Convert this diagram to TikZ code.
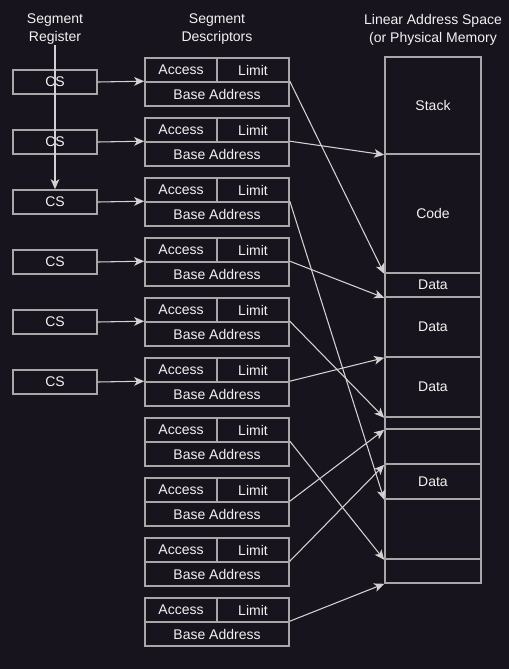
\documentclass[tikz,border=0pt]{standalone}
\usepackage{fontspec}
\setmainfont{Liberation Sans}
\usetikzlibrary{positioning, arrows.meta}

\definecolor{bgcol}{HTML}{18141D}
\definecolor{boxcol}{HTML}{A8A8A8}
\definecolor{wirecol}{HTML}{D2D2D2}
\definecolor{txtcol}{HTML}{F2F2F2}

\tikzset{
  lbl/.style={text=txtcol, inner sep=0pt, font=\fontsize{10.5}{13.5}\selectfont},
  cell/.style={lbl, draw=boxcol, line width=1.2pt},
  regbox/.style={cell, minimum width=63pt, minimum height=18pt},
  halfbox/.style={cell, minimum width=54pt, minimum height=18pt},
  basebox/.style={cell, minimum width=108pt, minimum height=18pt},
  memcell/.style={cell, minimum width=72pt},
  wire/.style={draw=wirecol, line width=0.8pt, -{Stealth[length=7.5pt, width=6.5pt, inset=2pt]}}
}

\begin{document}
\begin{tikzpicture}[x=0.75pt, y=-0.75pt]
\fill[bgcol] (0,0) rectangle (509,669);
\useasboundingbox (0,0) rectangle (509,669);

% column headers
\node[lbl, align=center] (hreg) at (55,29.5) {Segment\\Register};
\node[lbl, align=center] (hdesc) at (217,29.5) {Segment\\Descriptors};
\node[lbl, align=center] (hmem) at (433,29.5) {Linear Address Space\\(or Physical Memory};

% linear address space
\foreach \nm/\t/\b/\txt in {stack/57/154/Stack, code/154/273/Code, d1/273/297/Data,
    d2/297/357/Data, d3/357/417/Data, e1/417/429/{}, e2/429/464/{},
    d4/464/499/Data, e3/499/559/{}, e4/559/583/{}}
  \node[memcell, minimum height={(\b-\t)*0.75pt}] (\nm) at (433,{(\t+\b)/2}) {\txt};

% descriptors
\foreach \i in {1,...,10} {
  \pgfmathsetmacro\yy{58+60*(\i-1)}
  \node[halfbox] (acc\i) at (181,\yy+12) {Access};
  \node[halfbox] (lim\i) at (253,\yy+12) {Limit};
  \node[basebox] (base\i) at (217,\yy+36) {Base Address};
}

% segment registers
\foreach \i in {1,...,6} {
  \node[regbox] (cs\i) at (55,{82+60*(\i-1)}) {CS};
  \draw[wire] (cs\i.east) -- (base\i.north west);
}

\draw[wire] (hreg.south) -- (cs3.north);

% base address -> memory
\foreach \i/\dst in {1/code, 2/stack, 3/d4, 4/d1, 5/d3, 6/d2, 7/e3, 8/e1, 9/e2, 10/e4}
  \draw[wire] (base\i.north east) -- (\dst.south west);
\end{tikzpicture}
\end{document}
